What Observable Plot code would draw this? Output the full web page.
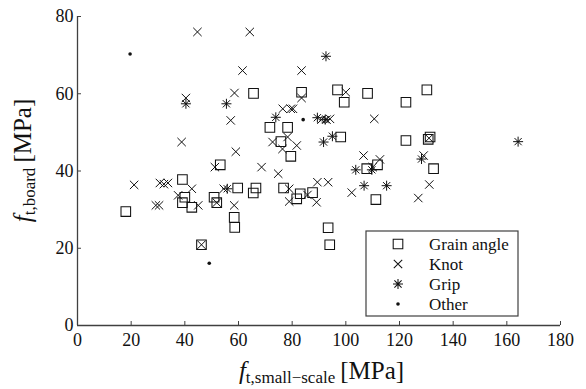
<!DOCTYPE html>
<html><head><meta charset="utf-8">
<script src="https://cdn.jsdelivr.net/npm/d3@7"></script>
<script src="https://cdn.jsdelivr.net/npm/@observablehq/plot@0.6"></script>
<style>body{margin:0;background:#fff}#chart{position:relative;width:586px;height:389px}</style>
</head><body><div id="chart"></div>
<script>
// ---- data (MPa) ----
const seriesNames = ["Grain angle", "Knot", "Grip", "Other"];
const xTicks = [0, 20, 40, 60, 80, 100, 120, 140, 160, 180];
const yTicks = [0, 20, 40, 60, 80];

const grainX = [18.0, 39.1, 40.0, 39.1, 42.6, 46.2, 50.9, 51.9, 53.2, 58.4, 58.6, 59.7, 65.5, 66.5, 65.6, 71.7, 78.3, 75.8, 79.5, 76.8, 81.7, 83.0, 87.6, 83.5, 93.4, 94.0, 96.9, 99.4, 98.1, 108.1, 107.8, 111.8, 111.2, 122.4, 122.4, 130.2, 130.7, 131.4, 132.7];
const grainY = [29.5, 37.8, 33.2, 31.8, 30.6, 20.9, 33.2, 31.8, 41.6, 28.0, 25.4, 35.6, 34.3, 35.6, 60.1, 51.3, 51.3, 47.6, 43.8, 35.6, 32.8, 34.1, 34.4, 60.4, 25.3, 20.9, 61.0, 57.8, 48.8, 60.1, 40.6, 41.6, 32.6, 57.8, 47.9, 61.0, 48.2, 48.8, 40.6];

const knotX = [21.1, 29.2, 30.4, 30.7, 32.2, 33.7, 37.5, 38.8, 40.4, 42.6, 44.7, 45.0, 46.2, 51.2, 51.9, 54.5, 57.1, 58.5, 58.4, 59.0, 61.5, 64.2, 68.6, 72.7, 74.8, 76.4, 76.5, 78.3, 78.9, 78.9, 79.5, 80.3, 81.7, 83.5, 83.5, 85.7, 89.1, 89.4, 90.9, 92.8, 93.4, 94.1, 100.0, 102.2, 106.6, 110.0, 110.6, 112.7, 127.0, 129.0, 131.0, 131.1];
const knotY = [36.4, 31.1, 31.1, 36.9, 36.6, 36.9, 33.7, 47.5, 58.9, 35.4, 76.0, 31.1, 20.9, 41.0, 31.8, 35.4, 53.1, 60.2, 31.1, 45.0, 66.0, 76.0, 41.0, 47.5, 39.3, 45.7, 56.1, 48.8, 35.4, 32.1, 56.1, 56.1, 46.6, 66.0, 58.9, 33.8, 31.9, 37.1, 53.3, 53.3, 37.1, 53.5, 60.4, 34.4, 44.0, 41.0, 53.5, 43.0, 33.0, 44.0, 48.5, 36.5];

const gripX = [40.4, 55.5, 55.8, 73.9, 89.4, 92.3, 92.6, 91.7, 95.0, 103.7, 109.7, 106.8, 115.2, 128.2, 164.2];
const gripY = [57.4, 57.4, 35.4, 53.9, 53.8, 53.3, 69.7, 47.5, 49.0, 40.3, 40.3, 36.2, 36.2, 43.1, 47.6];

const otherX = [19.6, 84.1, 49.1];
const otherY = [70.3, 53.3, 16.1];

// ---- tables built from arrays ----
const toRows = (xs, ys) => xs.map((x, i) => ({x, y: ys[i]}));
const grain = toRows(grainX, grainY);
const knot = toRows(knotX, knotY);
const grip = toRows(gripX, gripY);
const other = toRows(otherX, otherY);

// ---- custom marker symbols (MATLAB-like) ----
const rad = size => Math.sqrt(size / Math.PI);
const squareSym = {draw(c, size) {const r = rad(size); c.moveTo(-r, -r); c.lineTo(r, -r); c.lineTo(r, r); c.lineTo(-r, r); c.closePath();}};
const timesSym = {draw(c, size) {const r = rad(size); c.moveTo(-r, -r); c.lineTo(r, r); c.moveTo(-r, r); c.lineTo(r, -r);}};
const astSym = {draw(c, size) {const r = rad(size), d = r * 0.72; c.moveTo(-r, 0); c.lineTo(r, 0); c.moveTo(0, -r); c.lineTo(0, r); c.moveTo(-d, -d); c.lineTo(d, d); c.moveTo(-d, d); c.lineTo(d, -d);}};

const INK = "#111";
const AX = "#404040";
const FONT = "'Liberation Serif', 'DejaVu Serif', serif";

const plot = Plot.plot({
  width: 586, height: 389,
  marginLeft: 77, marginRight: 26, marginTop: 16, marginBottom: 64,
  style: {fontFamily: FONT, fontSize: "18px", color: "#111", background: "#fff"},
  x: {domain: [0, 180]},
  y: {domain: [0, 80]},
  marks: [
    Plot.ruleX([0], {stroke: AX, strokeWidth: 1.3}),
    Plot.ruleY([0], {stroke: AX, strokeWidth: 1.3}),
    Plot.axisX(xTicks, {tickSize: -4, text: null, stroke: AX, label: null}),
    Plot.axisY(yTicks, {tickSize: -4, text: null, stroke: AX, label: null}),
    Plot.axisX(xTicks, {tickSize: 0, tickPadding: 8, label: null, fill: "#111", fontFamily: FONT, fontSize: 18}),
    Plot.axisY(yTicks, {tickSize: 0, tickPadding: 4, label: null, fill: "#111", fontFamily: FONT, fontSize: 18}),
    Plot.dot(grain, {x: "x", y: "y", symbol: squareSym, r: 4.8, stroke: INK, strokeWidth: 1.05, fill: "none"}),
    Plot.dot(knot, {x: "x", y: "y", symbol: timesSym, r: 4.2, stroke: INK, strokeWidth: 1, fill: "none"}),
    Plot.dot(grip, {x: "x", y: "y", symbol: astSym, r: 5, stroke: INK, strokeWidth: 1, fill: "none"}),
    Plot.dot(other, {x: "x", y: "y", r: 1.8, fill: INK, stroke: "none"})
  ]
});
document.getElementById("chart").appendChild(plot);

// ---- axis titles and legend ----
const svg = d3.select(plot);
const [xa, xb] = plot.scale("x").range;
const [ya, yb] = plot.scale("y").range; // ya bottom, yb top

const xt = svg.append("text").attr("x", (xa + xb) / 2 + 3).attr("y", ya + 54)
  .attr("text-anchor", "middle").attr("font-family", FONT).attr("fill", "#111").attr("font-size", 25);
xt.append("tspan").attr("font-style", "italic").text("f");
xt.append("tspan").attr("font-size", 17).attr("dy", 4).text("t,small\u2212scale");
xt.append("tspan").attr("dy", -4).text("\u2009[MPa]");

const yt = svg.append("text").attr("transform", `translate(31,${(ya + yb) / 2 - 10}) rotate(-90)`)
  .attr("text-anchor", "middle").attr("font-family", FONT).attr("fill", "#111").attr("font-size", 25);
yt.append("tspan").attr("font-style", "italic").text("f");
yt.append("tspan").attr("font-size", 17).attr("dy", 4).text("t,board");
yt.append("tspan").attr("dy", -4).text("\u2009[MPa]");

const lw = 152, lh = 85;
const lx = xb - 42 - lw, ly = ya - 9 - lh;
const lg = svg.append("g").attr("transform", `translate(${lx},${ly})`);
lg.append("rect").attr("width", lw).attr("height", lh).attr("fill", "#fff").attr("stroke", AX).attr("stroke-width", 1.2);
const syms = [[squareSym, 4.8, false], [timesSym, 4.2, false], [astSym, 5, false], [null, 1.8, true]];
seriesNames.forEach((name, i) => {
  const cy = 13 + 20 * i;
  const [s, r, filled] = syms[i];
  if (filled) lg.append("circle").attr("cx", 32).attr("cy", cy).attr("r", r).attr("fill", INK);
  else lg.append("path").attr("transform", `translate(32,${cy})`).attr("d", d3.symbol(s, r * r * Math.PI)()).attr("fill", "none").attr("stroke", INK).attr("stroke-width", 1.05);
  lg.append("text").attr("x", 63).attr("y", cy).attr("dy", "0.35em").attr("text-anchor", "start")
    .attr("font-family", FONT).attr("font-size", 17).attr("fill", "#111").text(name);
});
</script>
</body></html>
